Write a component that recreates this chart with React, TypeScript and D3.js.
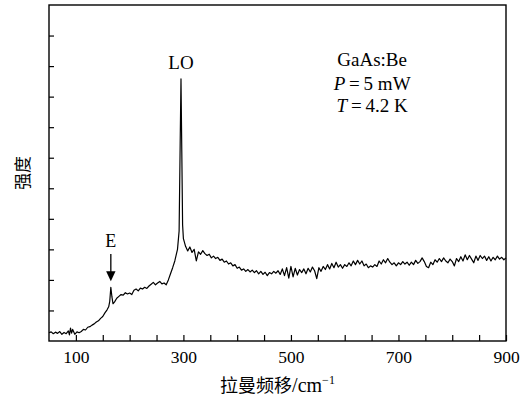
import React, { useEffect, useRef } from "react";
import * as d3 from "d3";

// Raman shift (cm^-1) and intensity (arb. units, 0-11)
// low-shift part, incl. the E feature and the LO peak
const shiftLow = [
  50, 54, 58, 62, 66, 70, 74, 78, 82, 86,
  88, 90, 92, 94, 98, 102, 106, 110, 114, 118,
  122, 126, 130, 134, 138, 142, 146, 150, 154, 158,
  161, 163, 165, 167, 169, 172, 176, 180, 184, 188,
  192, 196, 200, 204, 208, 212, 216, 220, 224, 228,
  232, 236, 240, 244, 248, 252, 256, 260, 264, 268,
  272, 276, 280, 284, 287, 289, 292, 294, 295.5, 297,
  298.5, 300
];
const intensityLow = [
  0.27, 0.3, 0.24, 0.29, 0.25, 0.31, 0.22, 0.28, 0.24, 0.33,
  0.2, 0.42, 0.26, 0.38, 0.22, 0.3, 0.27, 0.31, 0.38, 0.36,
  0.45, 0.47, 0.52, 0.56, 0.62, 0.66, 0.74, 0.8, 0.92, 1.02,
  1.12, 1.3, 1.76, 1.45, 1.22, 1.28, 1.4, 1.46, 1.52, 1.5,
  1.58, 1.54, 1.57, 1.52, 1.66, 1.7, 1.64, 1.73, 1.7, 1.76,
  1.72, 1.8, 1.86, 1.92, 1.84, 1.9, 1.95, 1.87, 1.9, 1.84,
  2.0, 2.2, 2.4, 2.62, 2.85, 3.0, 3.6, 6.5, 8.58, 6.2,
  3.8, 3.35
];
// high-shift part, sampled every 4 cm^-1 from 304 to 900
const shiftHigh = d3.range(304, 901, 4);
const intensityHigh = [
  3.1, 2.95, 3.08, 2.9, 3.0, 2.62, 2.92, 2.84, 2.96, 2.86,
  2.8, 2.84, 2.72, 2.78, 2.7, 2.74, 2.64, 2.68, 2.58, 2.62,
  2.52, 2.56, 2.46, 2.5, 2.38, 2.42, 2.32, 2.36, 2.28, 2.34,
  2.26, 2.32, 2.24, 2.3, 2.2, 2.28, 2.18, 2.25, 2.14, 2.24,
  2.2, 2.28, 2.22, 2.3, 2.18, 2.36, 2.14, 2.4, 2.06, 2.44,
  2.1, 2.38, 2.16, 2.34, 2.24, 2.36, 2.2, 2.38, 2.26, 2.42,
  2.3, 2.04, 2.4, 2.28, 2.44, 2.34, 2.5, 2.36, 2.54, 2.4,
  2.58, 2.42, 2.5, 2.38, 2.5, 2.44, 2.56, 2.46, 2.62, 2.5,
  2.64, 2.52, 2.62, 2.46, 2.52, 2.4, 2.46, 2.42, 2.5, 2.44,
  2.62, 2.52, 2.66, 2.56, 2.7, 2.58, 2.5, 2.56, 2.46, 2.56,
  2.5, 2.6, 2.52, 2.58, 2.48, 2.58, 2.5, 2.64, 2.54, 2.6,
  2.72, 2.6, 2.44, 2.4, 2.58, 2.5, 2.66, 2.58, 2.7, 2.6,
  2.72, 2.62, 2.56, 2.68, 2.6, 2.46, 2.7, 2.6, 2.76, 2.62,
  2.82, 2.66, 2.8, 2.68, 2.56, 2.78, 2.64, 2.8, 2.7, 2.78,
  2.64, 2.76, 2.62, 2.74, 2.66, 2.78, 2.68, 2.74, 2.66, 2.72
];

const xTicks = d3.range(100, 901, 50);
const xLabels = [100, 300, 500, 700, 900];
const yTicks = d3.range(1, 11);

const width = 528;
const height = 401;
const margin = { top: 5, right: 22, bottom: 60, left: 49 };
const serif = "Times New Roman, Liberation Serif, DejaVu Serif, serif";
const cjk = "Noto Sans CJK SC, sans-serif";

const App = () => {
  const chart = useRef<SVGSVGElement>(null);

  useEffect(() => {
    const svg = d3.select(chart.current);
    svg.selectAll("*").remove();

    const x = d3.scaleLinear().domain([50, 900]).range([margin.left, width - margin.right]);
    const y = d3.scaleLinear().domain([0, 11]).range([height - margin.bottom, margin.top]);

    const points = [
      ...shiftLow.map((s, i) => [s, intensityLow[i]] as [number, number]),
      ...shiftHigh.map((s, i) => [s, intensityHigh[i]] as [number, number])
    ];

    // spectrum
    svg
      .append("path")
      .datum(points)
      .attr("fill", "none")
      .attr("stroke", "#000")
      .attr("stroke-width", 1.2)
      .attr("stroke-linejoin", "round")
      .attr("d", d3.line().x(d => x(d[0])).y(d => y(d[1])));

    // axes
    const gx = svg
      .append("g")
      .attr("transform", `translate(0,${y(0)})`)
      .call(
        d3
          .axisBottom(x)
          .tickValues(xTicks)
          .tickSizeInner(-6)
          .tickSizeOuter(0)
          .tickPadding(10)
          .tickFormat(d => (xLabels.includes(+d) ? String(d) : ""))
      );
    gx.select(".domain").remove();
    gx.selectAll("line").attr("stroke-width", 1.2);
    gx.selectAll("text").attr("font-family", serif).attr("font-size", 17.5).attr("fill", "#000");

    const gy = svg
      .append("g")
      .attr("transform", `translate(${x(50)},0)`)
      .call(d3.axisLeft(y).tickValues(yTicks).tickSizeInner(-5).tickSizeOuter(0).tickFormat(() => ""));
    gy.select(".domain").remove();
    gy.selectAll("line").attr("stroke-width", 1.2);

    // frame
    svg
      .append("rect")
      .attr("x", x(50))
      .attr("y", y(11))
      .attr("width", x(900) - x(50))
      .attr("height", y(0) - y(11))
      .attr("fill", "none")
      .attr("stroke", "#000")
      .attr("stroke-width", 1.4);

    // LO label
    svg
      .append("text")
      .attr("x", x(295.5))
      .attr("y", y(8.89))
      .attr("text-anchor", "middle")
      .attr("font-family", serif)
      .attr("font-size", 19)
      .text("LO");

    // E label + arrow
    svg
      .append("text")
      .attr("x", x(165))
      .attr("y", y(3.07))
      .attr("text-anchor", "middle")
      .attr("font-family", serif)
      .attr("font-size", 18)
      .text("E");
    const ax = x(165);
    const ay = y(1.96);
    svg
      .append("line")
      .attr("x1", ax)
      .attr("x2", ax)
      .attr("y1", y(2.85))
      .attr("y2", ay - 8)
      .attr("stroke", "#000")
      .attr("stroke-width", 1.3);
    svg
      .append("path")
      .attr("d", `M${ax},${ay} L${ax - 4.7},${ay - 10} L${ax + 4.7},${ay - 10} Z`)
      .attr("fill", "#000");

    // sample info
    const info = svg
      .append("text")
      .attr("text-anchor", "middle")
      .attr("font-family", serif)
      .attr("font-size", 19);
    info.append("tspan").attr("x", x(651)).attr("y", 66).text("GaAs:Be");
    const l2 = info.append("tspan").attr("x", x(651)).attr("y", 90);
    l2.append("tspan").attr("font-style", "italic").text("P");
    l2.append("tspan").text("\u2009=\u20095 mW");
    const l3 = info.append("tspan").attr("x", x(651)).attr("y", 112);
    l3.append("tspan").attr("font-style", "italic").text("T");
    l3.append("tspan").text("\u2009=\u20094.2 K");

    // axis titles
    const xt = svg
      .append("text")
      .attr("x", (x(50) + x(900)) / 2)
      .attr("y", 392)
      .attr("text-anchor", "middle")
      .attr("font-size", 18);
    xt.append("tspan").attr("font-family", cjk).text("拉曼频移");
    xt.append("tspan").attr("font-family", serif).attr("font-size", 20).text("/cm");
    xt.append("tspan").attr("font-family", serif).attr("font-size", 12).attr("dy", -8).text("\u22121");

    svg
      .append("text")
      .attr("transform", `translate(29,${(y(0) + y(11)) / 2}) rotate(-90)`)
      .attr("text-anchor", "middle")
      .attr("font-family", cjk)
      .attr("font-size", 17)
      .text("强度");
  }, []);

  return (
    <svg
      ref={chart}
      width={width}
      height={height}
      viewBox={`0 0 ${width} ${height}`}
      style={{ position: "absolute", left: 0, top: 0, background: "#fff" }}
    ></svg>
  );
};

export default App;
